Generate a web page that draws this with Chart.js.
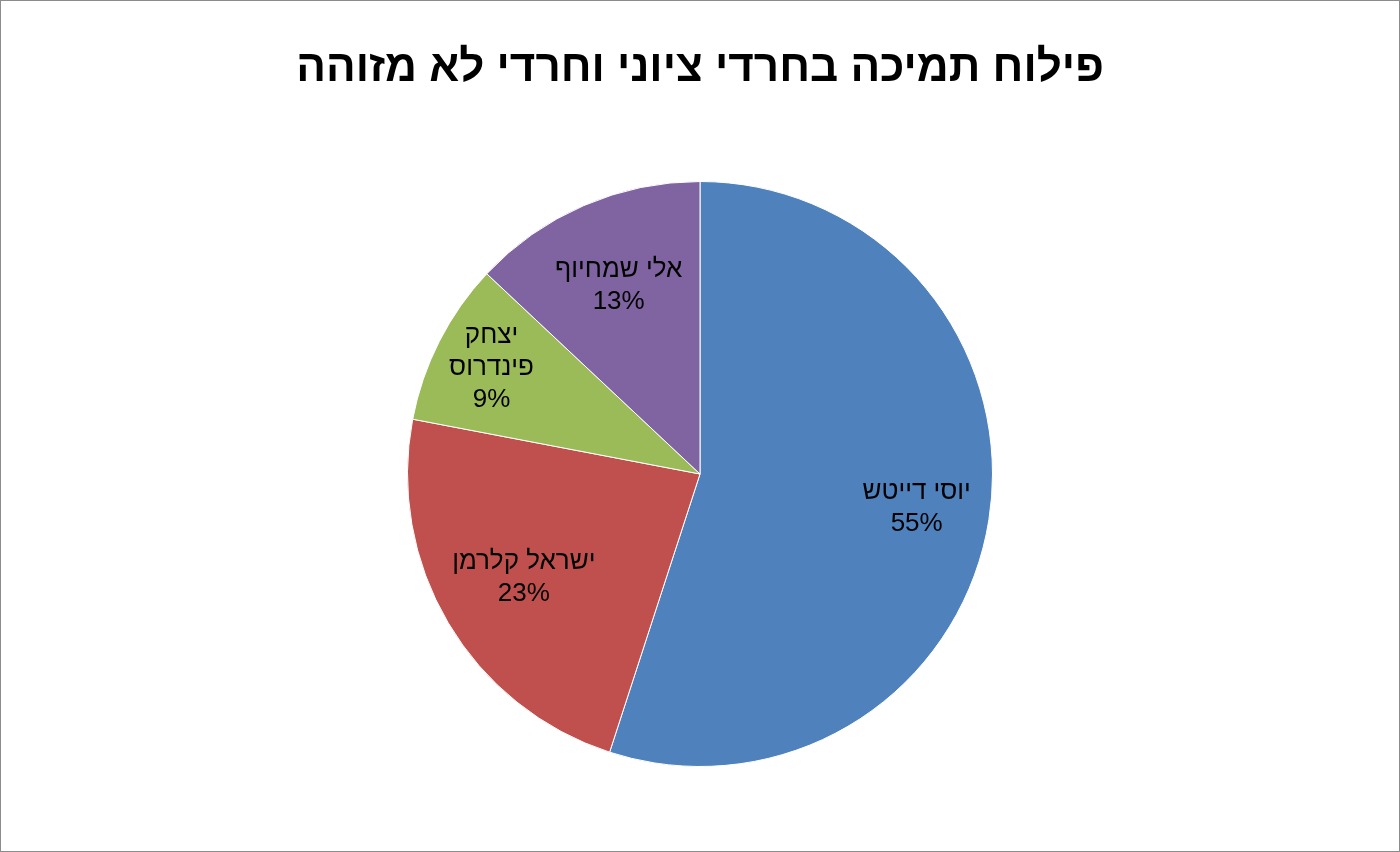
<!DOCTYPE html>
<html><head><meta charset="utf-8">
<script src="https://cdn.jsdelivr.net/npm/chart.js@4"></script>
<style>
html,body{margin:0;padding:0;background:#fff;}
#wrap{position:absolute;left:0;top:0;width:1398px;height:850px;border:1px solid #8c8c8c;}
</style></head><body>
<div id="wrap"><canvas id="c" width="1398" height="850"></canvas></div>
<script>
const title = "פילוח תמיכה בחרדי ציוני וחרדי לא מזוהה";
const categories = [["יוסי דייטש"], ["ישראל קלרמן"], ["יצחק", "פינדרוס"], ["אלי שמחיוף"]];
const values = [55, 23, 9, 13];
const colors = ["#4f81bd", "#c0504d", "#9bbb59", "#8064a2"];
const labelRatio = [0.75, 0.70, 0.80, 0.70];

const labelPlugin = {
  id: "labels",
  afterDatasetsDraw(chart) {
    const ctx = chart.ctx;
    const meta = chart.getDatasetMeta(0);
    ctx.save();
    ctx.fillStyle = "#000";
    ctx.textAlign = "center";
    ctx.textBaseline = "middle";
    ctx.font = "26px 'Liberation Sans', Arial, sans-serif";
    meta.data.forEach((arc, i) => {
      const p = arc.getProps(["x","y","startAngle","endAngle","outerRadius"], true);
      const a = (p.startAngle + p.endAngle) / 2;
      const r = p.outerRadius * labelRatio[i];
      const cx = p.x + Math.cos(a) * r, cy = p.y + Math.sin(a) * r;
      const lines = [...categories[i], values[i] + "%"];
      const lh = 32;
      lines.forEach((t, k) => {
        ctx.fillText(t, cx, cy + (k - (lines.length - 1) / 2) * lh);
      });
    });
    ctx.font = "bold 44px 'Liberation Sans', Arial, sans-serif";
    ctx.fillText(title, chart.width / 2, 68);
    ctx.restore();
  }
};

new Chart(document.getElementById("c"), {
  type: "pie",
  data: { labels: categories.map(c => c.join(" ")), datasets: [{ data: values, backgroundColor: colors, borderColor: "#ffffff", borderWidth: 1 }] },
  options: {
    responsive: false, animation: false,
    layout: { padding: { top: 180, bottom: 84 } },
    plugins: { legend: { display: false }, tooltip: { enabled: false }, title: { display: false } }
  },
  plugins: [labelPlugin]
});
</script></body></html>
